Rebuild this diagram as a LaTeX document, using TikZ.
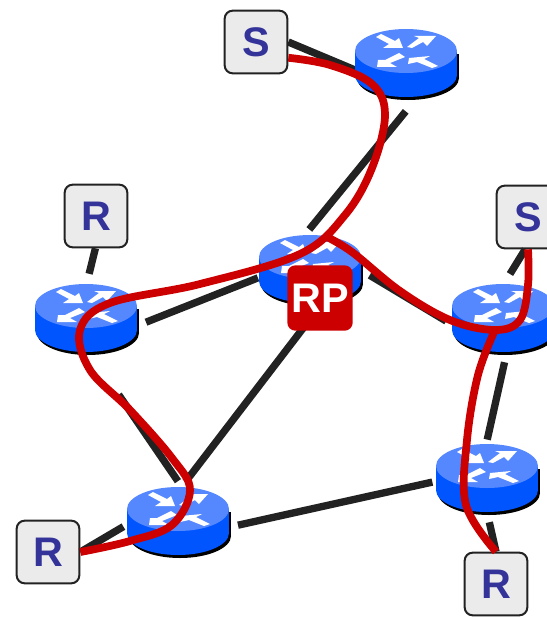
\documentclass[tikz,border=0pt]{standalone}
\usepackage{fontspec}
\setmainfont{Liberation Sans}
\usetikzlibrary{shapes.geometric}
\definecolor{routertop}{HTML}{5588FF}
\definecolor{routerbody}{HTML}{0055FF}
\definecolor{linkgray}{HTML}{222222}
\definecolor{treered}{HTML}{CC0000}
\definecolor{hostblue}{HTML}{333399}
\tikzset{
  link/.style={line width=5.5pt,color=linkgray},
  tree/.style={line width=5.8pt,color=treered,line join=round},
  spot/.style={ellipse,inner sep=0pt,minimum width=90pt,minimum height=66pt},
  host/.style={draw=linkgray,fill=black!8,line width=1.5pt,rounded corners=6pt,
    minimum size=47pt,inner sep=0pt,text=hostblue,font=\fontsize{31}{31}\selectfont\bfseries},
  rpbox/.style={fill=treered,rounded corners=6pt,minimum size=49pt,inner sep=0pt,
    text=white,font=\fontsize{31}{31}\selectfont\bfseries},
  router/.pic={
    \fill[black] (-49,3) rectangle (53,27);
    \fill[black] (2,27) ellipse [x radius=51,y radius=22];
    \fill[routerbody] (-51,0) rectangle (51,24);
    \fill[routerbody] (0,24) ellipse [x radius=51,y radius=22];
    \fill[routertop] (0,0) ellipse [x radius=51,y radius=22];
    \fill[white] (-30,-14) -- (-25,-17) -- (-11,-10) -- (-7,-13) -- (-3,-3) -- (-23,-3) -- (-17,-7) -- cycle;
    \fill[white] (1,-4) -- (6,-3) -- (17,-9) -- (21,-5) -- (30,-15) -- (8,-15) -- (13,-13) -- cycle;
    \fill[white] (-28,9) -- (-29,16) -- (-9,16) -- (-16,12) -- (-1,6) -- (-7,2) -- (-21,9) -- cycle;
    \fill[white] (2,13) -- (3,7) -- (24,5) -- (18,8) -- (32,15) -- (26,17) -- (11,11) -- cycle;
  }
}
\begin{document}
\begin{tikzpicture}[x=0.75pt,y=-0.75pt]
\useasboundingbox (0,0) rectangle (546,617);
\foreach \rname/\rx/\ry in {top/406/63,rp/310/269,left/86/318,right/503/318,bottom/178/521,low/487/478}
  \node[spot] (\rname) at (\rx,\ry) {};
\node[host] (S1) at (256,42) {S};
\node[host] (S2) at (528,217) {S};
\node[host] (R1) at (96,216) {R};
\node[host] (R2) at (48,552) {R};
\node[host] (R3) at (496,584) {R};
\coordinate (fork) at (325,236);
\coordinate (split) at (495,330);
\draw[link,shorten >=-8pt] (S1.east) -- (top.183);
\draw[link,shorten <=4pt,shorten >=-4.5pt] (top.-86) -- (rp.86);
\draw[link,shorten >=-5pt] (left.-4) -- (rp.191);
\draw[link,shorten >=-3pt] (rp.-6) -- (right.181);
\draw[link,shorten >=-4pt] (rp.-84) -- (bottom.76);
\draw[link,shorten <=30pt,shorten >=-4pt] (left.-77) -- (bottom.94);
\draw[link,shorten >=-4pt] (bottom.-4) -- (low.185);
\draw[link,shorten >=-4.5pt] (right.-88) -- (low.88);
\draw[link] (R1.-91) -- (left.86);
\draw[link] (S2.-95) -- (right.81);
\draw[link] (low.-87) -- (R3.north);
\draw[link,shorten >=-4pt] (R2.east) -- (bottom.188);
\foreach \rname/\rx/\ry in {top/406/51,rp/310/257,left/86/306,right/503/306,bottom/178/509,low/487/466}
  \pic at (\rx,\ry) {router};
\node[rpbox] (RP) at (320,298) {RP};
\draw[tree] plot[smooth,tension=0.6] coordinates {(S1.-26) (330,65) (372,84) (385,115) (372,168) (345,215) (300,254) (200,284) (110,303) (80,330) (90,370) (130,410) (172,458) (190,490) (172,525) (130,541) (R2.east)};
\draw[tree] plot[smooth,tension=0.6] coordinates {(fork) (352,252) (400,291) (450,320) (split) (520,320) (528,285) (S2.south)};
\draw[tree] plot[smooth,tension=0.6] coordinates {(split) (478,375) (467,440) (466,505) (R3.north)};
\end{tikzpicture}
\end{document}
